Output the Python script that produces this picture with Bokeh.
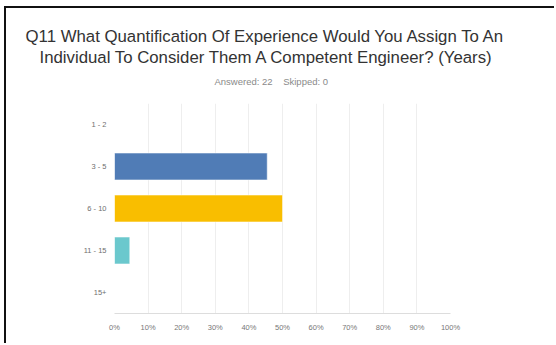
from bokeh.plotting import figure
from bokeh.models import (FactorRange, Range1d, Title, FixedTicker,
                          CustomJSTickFormatter, ColumnDataSource)
from bokeh.embed import file_html
from bokeh.resources import INLINE

# ---- data ----
categories = ["1 - 2", "3 - 5", "6 - 10", "11 - 15", "15+"]
counts = [0, 10, 11, 1, 0]
answered = 22
skipped = 0
bar_colors = ["#507cb6", "#507cb6", "#f9be00", "#6bc8cd", "#f47d30"]
x_ticks = [0, 10, 20, 30, 40, 50, 60, 70, 80, 90, 100]
title_lines = ["Q11 What Quantification Of Experience Would You Assign To An",
               "Individual To Consider Them A Competent Engineer? (Years)"]

pct = [c / answered * 100 for c in counts]

FONT = "Liberation Sans"
NB = "\u00a0"

p = figure(width=550, height=337, output_backend="svg", toolbar_location=None,
           y_range=FactorRange(factors=list(reversed(categories)), range_padding=0),
           x_range=Range1d(0, 100),
           min_border_left=108, min_border_right=106, min_border_top=95,
           min_border_bottom=32)
p.margin = (6, 0, 0, 4)
p.styles = {"border-left": "2px solid #111111", "border-top": "2px solid #111111"}

src = ColumnDataSource(dict(cat=categories, pct=pct, color=bar_colors))
p.hbar(y="cat", right="pct", left=0, height=0.64, fill_color="color",
       line_color="white", line_alpha=0.5, line_width=1, source=src)

# header (first added is closest to frame); first one is an empty spacer
p.add_layout(Title(text=NB, text_font=FONT, text_font_size="5px", standoff=2), "above")
p.add_layout(Title(text=f"Answered: {answered}{NB*4}Skipped: {skipped}", align="left",
                   offset=100, text_font=FONT, text_font_size="9.5px",
                   text_font_style="normal", text_color="#8a8a8a", standoff=14), "above")
p.add_layout(Title(text=title_lines[1], align="left", offset=-75, text_font=FONT,
                   text_font_size="16.8px", text_font_style="normal",
                   text_color="#333333", standoff=0), "above")
p.add_layout(Title(text=title_lines[0], align="left", offset=-89, text_font=FONT,
                   text_font_size="16.8px", text_font_style="normal",
                   text_color="#333333", standoff=0), "above")

# axes
p.xaxis.ticker = FixedTicker(ticks=x_ticks)
p.xaxis.formatter = CustomJSTickFormatter(code="return tick + '%';")
p.xaxis.axis_line_color = "#dddddd"
p.xaxis.major_tick_line_color = None
p.xaxis.minor_tick_line_color = None
p.xaxis.major_label_text_font = FONT
p.xaxis.major_label_text_font_size = "7.5px"
p.xaxis.major_label_text_color = "#777777"
p.xaxis.major_label_standoff = 3

p.yaxis.axis_line_color = None
p.yaxis.major_tick_line_color = None
p.yaxis.minor_tick_line_color = None
p.yaxis.major_label_text_font = FONT
p.yaxis.major_label_text_font_size = "7.5px"
p.yaxis.major_label_text_color = "#6f6f6f"
p.yaxis.major_label_standoff = 2

p.xgrid.ticker = FixedTicker(ticks=x_ticks)
p.xgrid.grid_line_color = "#eeeeee"
p.ygrid.grid_line_color = None
p.outline_line_color = None

open("out.html", "w").write(file_html(p, INLINE))
